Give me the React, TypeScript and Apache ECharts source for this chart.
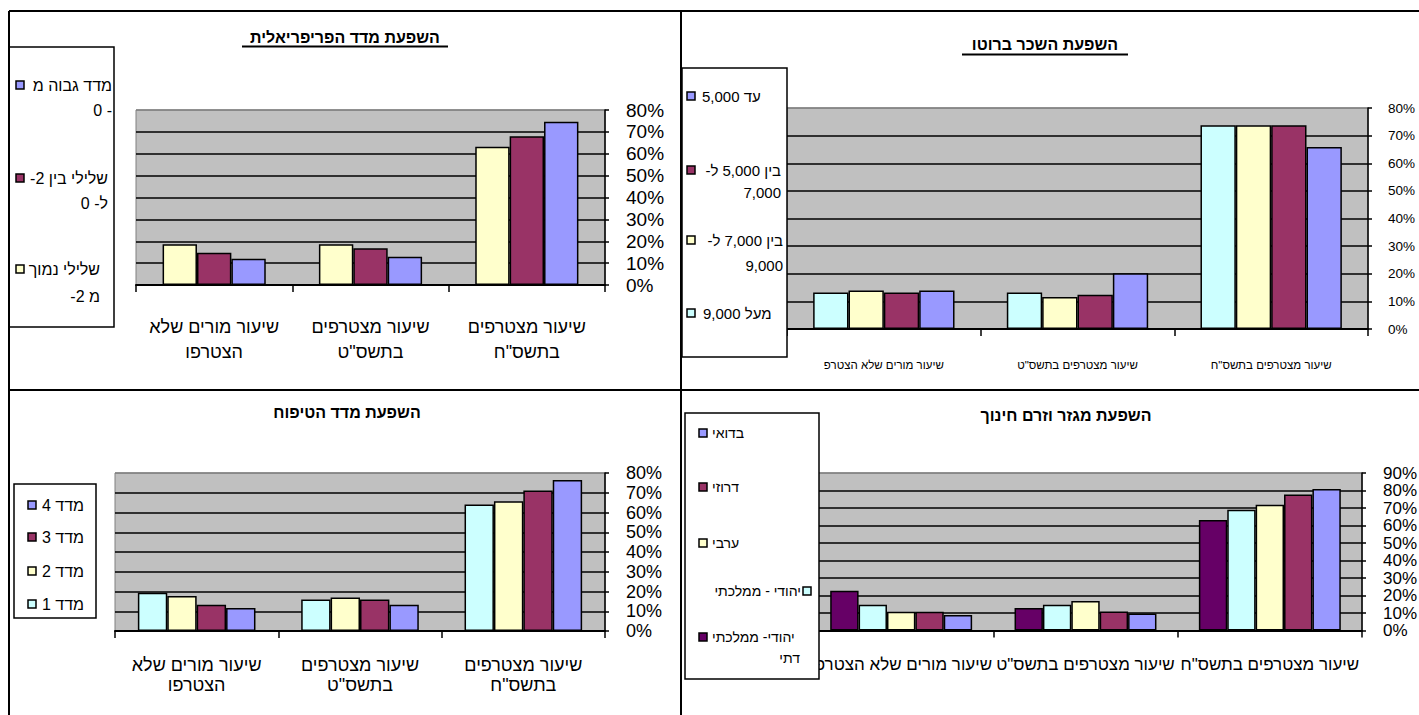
import React, { useEffect, useRef } from "react";
import * as echarts from "echarts";

// ---------- data ----------
const CATEGORIES = ["שיעור מורים שלא הצטרפו", "שיעור מצטרפים בתשס\"ט", "שיעור מצטרפים בתשס\"ח"];
const CATEGORIES_SALARY = ["שיעור מורים שלא הצטרפ", "שיעור מצטרפים בתשס\"ט", "שיעור מצטרפים בתשס\"ח"];

const TITLES = ["השפעת מדד הפריפריאלית", "השפעת השכר ברוטו", "השפעת מדד הטיפוח", "השפעת מגזר וזרם חינוך"];

// chart 1: periphery index
const PERIPHERY_NAMES = ["שלילי נמוך מ- 2-", "שלילי בין 2- ל- 0", "מדד גבוה מ- 0"];
const PERIPHERY_LOW = [18.6, 18.6, 63.2];
const PERIPHERY_MID = [14.8, 16.8, 68.0];
const PERIPHERY_HIGH = [12.0, 12.9, 74.6];
const PERIPHERY_LEGEND = [["מדד גבוה מ", "0 -"], ["שלילי בין 2-\u200F", "ל- 0"], ["שלילי נמוך", "מ 2-\u200F"]];

// chart 2: gross salary
const SALARY_NAMES = ["מעל 9,000", "בין 7,000 ל- 9,000", "בין 5,000 ל- 7,000", "עד 5,000"];
const SALARY_OVER_9000 = [13.2, 13.2, 73.8];
const SALARY_7000_9000 = [13.9, 11.6, 73.8];
const SALARY_5000_7000 = [13.2, 12.4, 73.8];
const SALARY_UP_TO_5000 = [13.9, 20.2, 65.9];
const SALARY_LEGEND = [["עד 5,000"], ["בין 5,000 ל-\u200F", "7,000"], ["בין 7,000 ל-\u200F", "9,000"], ["מעל 9,000"]];

// chart 3: nurturing index
const NURTURE_NAMES = ["מדד 1", "מדד 2", "מדד 3", "מדד 4"];
const NURTURE_1 = [19.4, 16.0, 64.0];
const NURTURE_2 = [17.7, 16.9, 65.7];
const NURTURE_3 = [13.3, 16.0, 71.1];
const NURTURE_4 = [11.6, 13.3, 76.5];

// chart 4: sector and education stream
const SECTOR_NAMES = ["יהודי- ממלכתי דתי", "יהודי - ממלכתי", "ערבי", "דרוזי", "בדואי"];
const SECTOR_RELIGIOUS = [22.7, 12.8, 63.1];
const SECTOR_STATE = [14.7, 14.7, 69.0];
const SECTOR_ARAB = [10.7, 16.8, 71.8];
const SECTOR_DRUZE = [10.7, 10.9, 77.7];
const SECTOR_BEDOUIN = [8.8, 9.7, 80.8];
const SECTOR_LEGEND = [["בדואי"], ["דרוזי"], ["ערבי"], ["יהודי - ממלכתי"], ["יהודי- ממלכתי", "דתי"]];

const Y_MAX = [80, 80, 80, 90];

// ---------- styling ----------
const FONT = "'Liberation Sans', Arial, 'DejaVu Sans', sans-serif";
const NARROW = "'Liberation Sans Narrow', 'Arial Narrow', 'Liberation Sans', Arial, sans-serif";
const C = { blue: "#9999FF", plum: "#993366", ivory: "#FFFFCC", aqua: "#CCFFFF", purple: "#660066" };

const wrapLast = (v: string) => v.replace(/ (\S+)$/, "\n$1");

function grid(left: number, top: number, width: number, height: number) {
  return {
    left, top, width, height, show: true, backgroundColor: "#C0C0C0",
    borderColor: "#808080", borderWidth: 1, containLabel: false, outerBoundsMode: "none",
  };
}

function xAxis(gridIndex: number, data: string[], label: any) {
  return {
    type: "category", gridIndex, data, boundaryGap: true,
    axisLine: { show: true, lineStyle: { color: "#000", width: 2 } },
    axisTick: { show: true, length: 7, alignWithLabel: false, interval: 0, lineStyle: { color: "#000", width: 1.5 } },
    axisLabel: { interval: 0, color: "#000", fontFamily: FONT, hideOverlap: false, ...label },
    splitLine: { show: false },
  };
}

function yAxis(gridIndex: number, max: number, label: any) {
  const n = max / 10 + 1;
  const colors = Array.from({ length: n }, (_, i) => (i === n - 1 ? "#808080" : "#000"));
  return {
    type: "value", gridIndex, position: "right", min: 0, max, interval: 10,
    axisLine: { show: true, lineStyle: { color: "#000", width: 1.5 } },
    axisTick: { show: true, length: 4, inside: false, lineStyle: { color: "#000", width: 1.5 } },
    splitLine: { show: true, lineStyle: { color: colors, width: 1.5 } },
    axisLabel: {
      formatter: "{value}%", color: "#000", fontFamily: FONT, hideOverlap: false,
      showMinLabel: true, showMaxLabel: true, verticalAlign: "middle", ...label,
    },
  };
}

function bars(name: string, data: number[], color: string, idx: number, gap: string) {
  return {
    type: "bar", name, data, xAxisIndex: idx, yAxisIndex: idx,
    barGap: "0%", barCategoryGap: gap,
    itemStyle: { color, borderColor: "#000", borderWidth: 1.5 },
    emphasis: { disabled: true },
  };
}

function txt(text: string, x: number, y: number, size: number, align: string, opts: any = {}) {
  return {
    type: "text", z: 110,
    style: {
      text, x, y, fill: "#000", fontSize: size, fontFamily: opts.family || FONT,
      fontWeight: opts.bold ? "bold" : "normal",
      align, verticalAlign: "middle", textAlign: align, textVerticalAlign: "middle",
    },
  };
}

function line(x1: number, y1: number, x2: number, y2: number, w = 2) {
  return { type: "line", z: 105, shape: { x1, y1, x2, y2 }, style: { stroke: "#000", lineWidth: w } };
}

type Entry = { color: string; sq: [number, number]; lines: { t: string; x: number; y: number; a: string }[] };

function legend(box: [number, number, number, number], entries: Entry[], size: number) {
  const els: any[] = [
    { type: "rect", z: 100, shape: { x: box[0], y: box[1], width: box[2], height: box[3] }, style: { fill: "#fff", stroke: "#000", lineWidth: 1.5 } },
  ];
  entries.forEach((e) => {
    els.push({ type: "rect", z: 110, shape: { x: e.sq[0], y: e.sq[1], width: 8, height: 8 }, style: { fill: e.color, stroke: "#000", lineWidth: 1.5 } });
    e.lines.forEach((l) => els.push(txt(l.t, l.x, l.y, size, l.a)));
  });
  return els;
}

function buildOption() {
  const graphic: any[] = [
    line(9, 11, 1419, 11), line(9, 11, 9, 715), line(681, 11, 681, 715), line(9, 390, 1419, 390),
    txt(TITLES[0], 345, 37, 16, "center", { bold: true }), line(242, 46.5, 448, 46.5, 2),
    txt(TITLES[1], 1045, 44, 16, "center", { bold: true }), line(962, 54.5, 1128, 54.5, 2),
    txt(TITLES[2], 347, 412, 16, "center", { bold: true }),
    txt(TITLES[3], 1066, 415, 16, "center", { bold: true }),
    ...legend([9, 47, 105, 280], [
      { color: C.blue, sq: [16, 81], lines: [{ t: PERIPHERY_LEGEND[0][0], x: 112, y: 85, a: "right" }, { t: PERIPHERY_LEGEND[0][1], x: 112, y: 110, a: "right" }] },
      { color: C.plum, sq: [16, 174], lines: [{ t: PERIPHERY_LEGEND[1][0], x: 108, y: 178, a: "right" }, { t: PERIPHERY_LEGEND[1][1], x: 108, y: 203, a: "right" }] },
      { color: C.ivory, sq: [16, 265], lines: [{ t: PERIPHERY_LEGEND[2][0], x: 100, y: 269, a: "right" }, { t: PERIPHERY_LEGEND[2][1], x: 100, y: 296, a: "right" }] },
    ], 16),
    ...legend([682, 68, 105, 289], [
      { color: C.blue, sq: [687, 92], lines: [{ t: SALARY_LEGEND[0][0], x: 702, y: 96, a: "left" }] },
      { color: C.plum, sq: [687, 166], lines: [{ t: SALARY_LEGEND[1][0], x: 781, y: 170, a: "right" }, { t: SALARY_LEGEND[1][1], x: 781, y: 192, a: "right" }] },
      { color: C.ivory, sq: [687, 236], lines: [{ t: SALARY_LEGEND[2][0], x: 783, y: 240, a: "right" }, { t: SALARY_LEGEND[2][1], x: 783, y: 265, a: "right" }] },
      { color: C.aqua, sq: [687, 309], lines: [{ t: SALARY_LEGEND[3][0], x: 703, y: 313, a: "left" }] },
    ], 15),
    ...legend([14, 484, 82, 134], [
      { color: C.blue, sq: [28, 501], lines: [{ t: NURTURE_NAMES[3], x: 42, y: 505, a: "left" }] },
      { color: C.plum, sq: [28, 533], lines: [{ t: NURTURE_NAMES[2], x: 42, y: 537, a: "left" }] },
      { color: C.ivory, sq: [28, 567], lines: [{ t: NURTURE_NAMES[1], x: 42, y: 571, a: "left" }] },
      { color: C.aqua, sq: [28, 600], lines: [{ t: NURTURE_NAMES[0], x: 42, y: 604, a: "left" }] },
    ], 16),
    ...legend([685, 413, 134, 266], [
      { color: C.blue, sq: [699, 429], lines: [{ t: SECTOR_LEGEND[0][0], x: 712, y: 433, a: "left" }] },
      { color: C.plum, sq: [699, 483], lines: [{ t: SECTOR_LEGEND[1][0], x: 712, y: 487, a: "left" }] },
      { color: C.ivory, sq: [699, 539], lines: [{ t: SECTOR_LEGEND[2][0], x: 712, y: 543, a: "left" }] },
      { color: C.aqua, sq: [803, 587], lines: [{ t: SECTOR_LEGEND[3][0], x: 801, y: 591, a: "right" }] },
      { color: C.purple, sq: [699, 633], lines: [{ t: SECTOR_LEGEND[4][0], x: 712, y: 637, a: "left" }, { t: SECTOR_LEGEND[4][1], x: 800, y: 658, a: "right" }] },
    ], 14),
  ];

  return {
    animation: false,
    backgroundColor: "#fff",
    grid: [grid(136, 110, 469, 175), grid(787, 108, 581, 221), grid(115, 473, 490, 158), grid(809, 473, 553, 157.5)],
    xAxis: [
      xAxis(0, CATEGORIES, { fontSize: 18, lineHeight: 25, margin: 29.5, formatter: wrapLast }),
      xAxis(1, CATEGORIES_SALARY, { fontSize: 11.5, lineHeight: 14, margin: 29, fontFamily: NARROW }),
      xAxis(2, CATEGORIES, { fontSize: 18, lineHeight: 20, margin: 24, formatter: wrapLast }),
      xAxis(3, CATEGORIES, { fontSize: 17, lineHeight: 20, margin: 24 }),
    ],
    yAxis: [
      yAxis(0, Y_MAX[0], { fontSize: 19, lineHeight: 14, margin: 21, padding: [6, 0, 0, 0] }),
      yAxis(1, Y_MAX[1], { fontSize: 13.5, lineHeight: 14, margin: 20, fontFamily: NARROW, padding: [6, 0, 0, 0] }),
      yAxis(2, Y_MAX[2], { fontSize: 18, lineHeight: 14, margin: 21, padding: [4, 0, 0, 0] }),
      yAxis(3, Y_MAX[3], { fontSize: 17, lineHeight: 13, margin: 21, padding: [3, 0, 0, 0] }),
    ],
    series: [
      bars(PERIPHERY_NAMES[0], PERIPHERY_LOW, C.ivory, 0, "34%"),
      bars(PERIPHERY_NAMES[1], PERIPHERY_MID, C.plum, 0, "34%"),
      bars(PERIPHERY_NAMES[2], PERIPHERY_HIGH, C.blue, 0, "34%"),
      bars(SALARY_NAMES[0], SALARY_OVER_9000, C.aqua, 1, "27%"),
      bars(SALARY_NAMES[1], SALARY_7000_9000, C.ivory, 1, "27%"),
      bars(SALARY_NAMES[2], SALARY_5000_7000, C.plum, 1, "27%"),
      bars(SALARY_NAMES[3], SALARY_UP_TO_5000, C.blue, 1, "27%"),
      bars(NURTURE_NAMES[0], NURTURE_1, C.aqua, 2, "28%"),
      bars(NURTURE_NAMES[1], NURTURE_2, C.ivory, 2, "28%"),
      bars(NURTURE_NAMES[2], NURTURE_3, C.plum, 2, "28%"),
      bars(NURTURE_NAMES[3], NURTURE_4, C.blue, 2, "28%"),
      bars(SECTOR_NAMES[0], SECTOR_RELIGIOUS, C.purple, 3, "23%"),
      bars(SECTOR_NAMES[1], SECTOR_STATE, C.aqua, 3, "23%"),
      bars(SECTOR_NAMES[2], SECTOR_ARAB, C.ivory, 3, "23%"),
      bars(SECTOR_NAMES[3], SECTOR_DRUZE, C.plum, 3, "23%"),
      bars(SECTOR_NAMES[4], SECTOR_BEDOUIN, C.blue, 3, "23%"),
    ],
    graphic,
  };
}

export default function App() {
  const ref = useRef<HTMLDivElement>(null);
  useEffect(() => {
    document.body.style.margin = "0";
    const chart = echarts.init(ref.current as HTMLDivElement, null, { renderer: "svg", width: 1419, height: 715 });
    chart.setOption(buildOption() as any);
    return () => chart.dispose();
  }, []);
  return <div ref={ref} style={{ width: 1419, height: 715 }} />;
}
